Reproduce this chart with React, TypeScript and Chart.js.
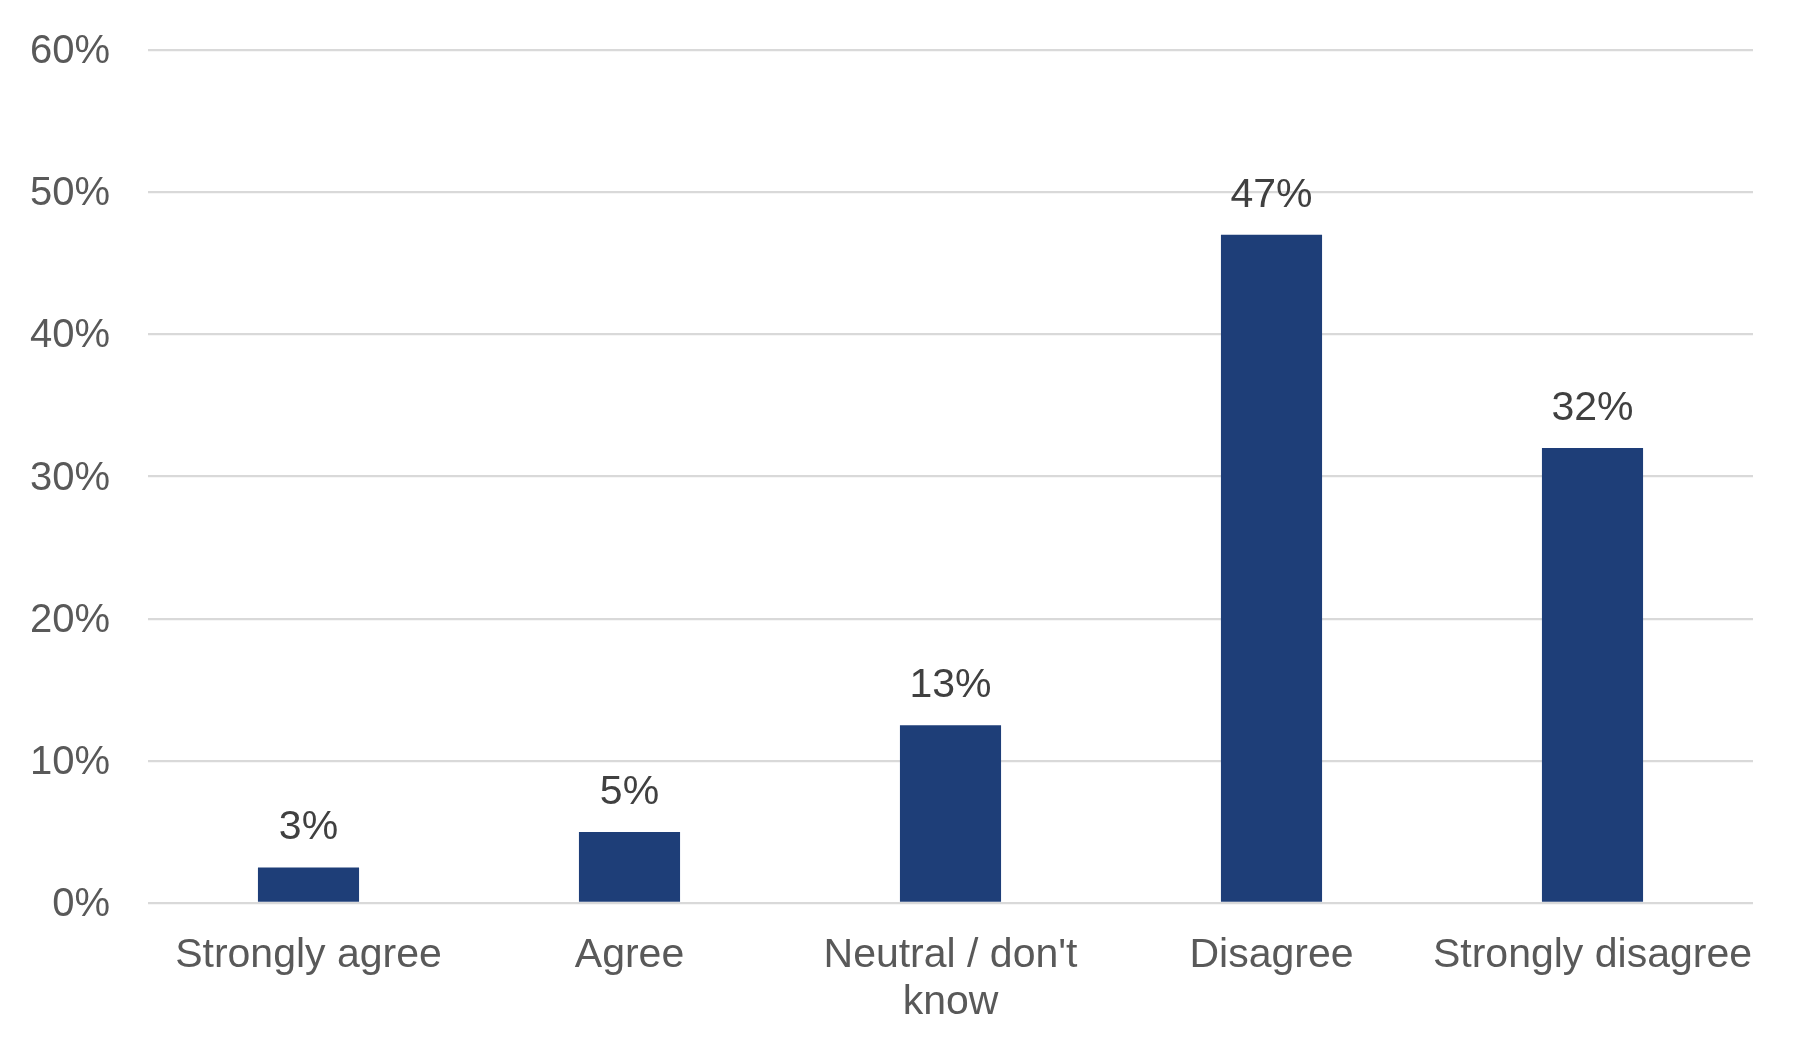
import React, { useEffect, useRef } from "react";
import { Chart, registerables } from "chart.js";

Chart.register(...registerables);

const categories: (string | string[])[] = [
  "Strongly agree",
  "Agree",
  ["Neutral / don't", "know"],
  "Disagree",
  "Strongly disagree",
];
const shares: number[] = [2.5, 5, 12.5, 47, 32];
const yTicks: number[] = [0, 10, 20, 30, 40, 50, 60];

const FONT = "'Liberation Sans', Arial, sans-serif";

// draws the value above each bar
const barValueLabels = {
  id: "barValueLabels",
  afterDatasetsDraw(chart: any) {
    const ctx = chart.ctx;
    const meta = chart.getDatasetMeta(0);
    ctx.save();
    ctx.font = `41px ${FONT}`;
    ctx.fillStyle = "#404040";
    ctx.textAlign = "center";
    ctx.textBaseline = "alphabetic";
    meta.data.forEach((bar: any, i: number) => {
      ctx.fillText(Math.round(shares[i]) + "%", bar.x, bar.y - 28);
    });
    ctx.restore();
  },
};

export default function App() {
  const canvasRef = useRef<HTMLCanvasElement>(null);

  useEffect(() => {
    const chart = new Chart(canvasRef.current!, {
      type: "bar",
      data: {
        labels: categories,
        datasets: [
          {
            data: shares,
            backgroundColor: "#1e3e78",
            barPercentage: 0.315,
            categoryPercentage: 1,
          },
        ],
      },
      options: {
        animation: false,
        responsive: true,
        maintainAspectRatio: false,
        layout: { padding: { top: 50, right: 51, left: 0, bottom: 0 } },
        plugins: {
          legend: { display: false },
          tooltip: { enabled: false },
        },
        scales: {
          x: {
            grid: { display: false },
            border: { display: false },
            ticks: {
              color: "#595959",
              font: { family: FONT, size: 41, lineHeight: 1.15 },
              padding: 21,
              maxRotation: 0,
              autoSkip: false,
            },
            afterFit: (scale: any) => {
              scale.height = 149;
            },
          },
          y: {
            min: 0,
            max: 60,
            afterBuildTicks: (scale: any) => {
              scale.ticks = yTicks.map((v) => ({ value: v }));
            },
            grid: { color: "#d9d9d9", lineWidth: 2.3, drawTicks: false },
            border: { display: false },
            ticks: {
              color: "#595959",
              font: { family: FONT, size: 40 },
              padding: 38,
              labelOffset: 2,
              callback: (v: any) => v + "%",
            },
            afterFit: (scale: any) => {
              scale.width = 148;
              // tick padding is added to the vertical padding; keep only half a label
              scale.paddingTop = 24;
              scale.paddingBottom = 24;
            },
          },
        },
      },
      plugins: [barValueLabels],
    });
    return () => {
      chart.destroy();
    };
  }, []);

  return (
    <div style={{ position: "fixed", left: 0, top: 0, width: 1804, height: 1052, background: "#fff" }}>
      <canvas ref={canvasRef}></canvas>
    </div>
  );
}
